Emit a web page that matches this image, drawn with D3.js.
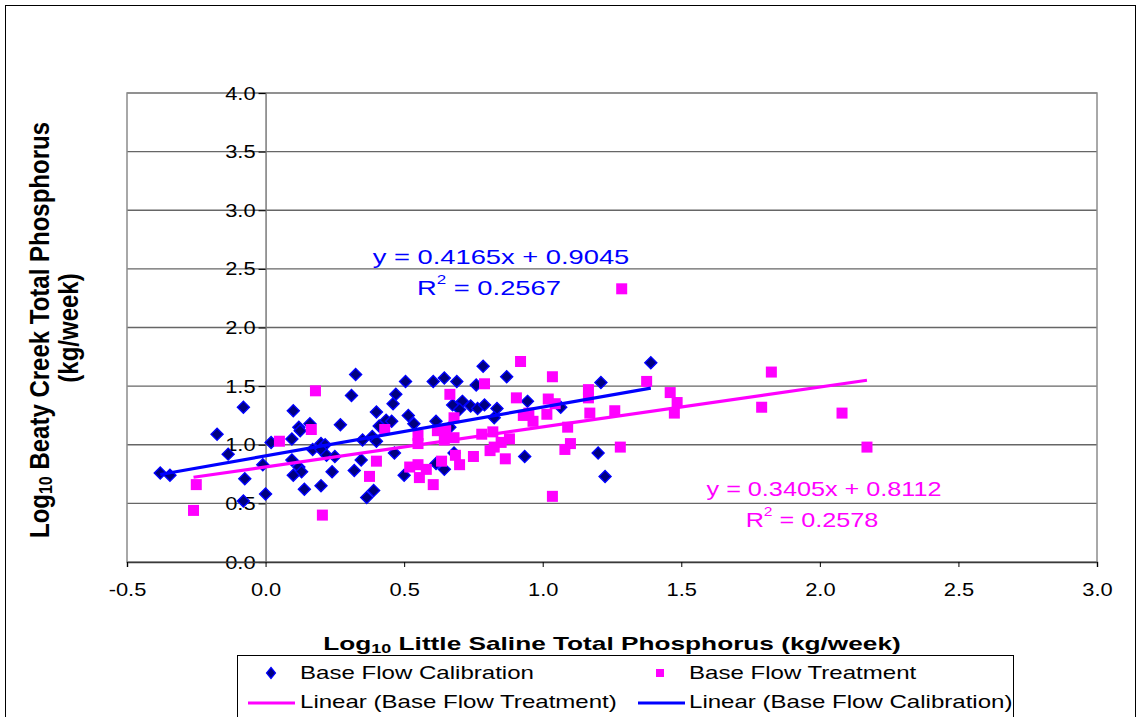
<!DOCTYPE html>
<html>
<head>
<meta charset="utf-8">
<script src="https://cdn.jsdelivr.net/npm/d3@7"></script>
<style>
  body { margin: 0; background: #fff; }
  svg { display: block; font-family: "Liberation Sans", Arial, sans-serif; }
</style>
</head>
<body>
<div id="chart"></div>
<script>
// Base Flow Calibration (log10 kg/week)
const calX = [-0.38, -0.345, -0.08, -0.175, -0.135, -0.075, -0.08, 0.0, -0.01, 0.02,
  0.325, 0.31, 0.10, 0.12, 0.125, 0.16, 0.27, 0.095, 0.20, 0.215,
  0.17, 0.20, 0.22, 0.25, 0.095, 0.12, 0.13, 0.10, 0.24, 0.14,
  0.20, 0.32, 0.345, 0.35, 0.385, 0.40, 0.40, 0.41, 0.435, 0.455,
  0.46, 0.47, 0.465, 0.365, 0.39, 0.785, 0.87, 0.505, 0.605, 0.645,
  0.69, 0.76, 0.515, 0.535, 0.675, 0.71, 0.70, 0.74, 0.765, 0.79,
  0.835, 0.825, 0.615, 0.665, 0.50, 0.615, 0.645, 0.68, 0.935, 1.21,
  1.39, 0.945, 1.065, 1.20, 1.225];
const calY = [0.76, 0.74, 1.32, 1.09, 0.92, 0.71, 0.52, 0.58, 0.83, 1.02,
  1.60, 1.42, 1.29, 1.15, 1.12, 1.18, 1.17, 1.05, 1.01, 1.00,
  0.96, 0.96, 0.91, 0.90, 0.87, 0.81, 0.77, 0.74, 0.77, 0.62,
  0.65, 0.78, 0.87, 1.04, 1.07, 1.03, 1.28, 1.16, 1.21, 1.20,
  1.35, 1.43, 0.93, 0.55, 0.61, 1.67, 1.58, 1.54, 1.54, 1.57,
  1.54, 1.51, 1.25, 1.18, 1.34, 1.37, 1.30, 1.33, 1.31, 1.34,
  1.31, 1.23, 1.20, 1.15, 0.74, 0.84, 0.79, 0.93, 0.90, 1.53,
  1.70, 1.37, 1.32, 0.93, 0.73];

// Base Flow Treatment (log10 kg/week)
const trtX = [-0.25, -0.26, 0.05, 0.18, 0.165, 0.43, 0.40, 0.375, 0.205, 0.92,
  0.79, 0.665, 0.905, 0.68, 0.93, 0.55, 0.55, 0.62, 0.65, 0.645,
  0.68, 0.78, 0.82, 0.88, 0.85, 0.825, 0.81, 0.865, 0.75, 0.685,
  0.70, 0.635, 0.58, 0.55, 0.52, 0.555, 0.605, 1.035, 1.165, 1.165,
  1.375, 1.02, 1.045, 0.95, 1.015, 0.965, 1.17, 1.26, 1.09, 1.10,
  1.08, 1.28, 1.035, 1.46, 1.485, 1.475, 1.825, 1.79, 2.08, 2.17,
  1.285];
const trtY = [0.66, 0.44, 1.03, 1.46, 1.13, 1.13, 0.86, 0.73, 0.40, 1.71,
  1.52, 1.43, 1.40, 1.23, 1.25, 1.08, 1.01, 1.12, 1.12, 1.04,
  1.06, 1.09, 1.11, 1.05, 1.02, 0.98, 0.95, 0.88, 0.90, 0.91,
  0.83, 0.86, 0.79, 0.83, 0.81, 0.72, 0.66, 1.58, 1.47, 1.40,
  1.54, 1.39, 1.35, 1.27, 1.26, 1.20, 1.27, 1.29, 1.15, 1.01,
  0.96, 0.98, 0.56, 1.445, 1.36, 1.27, 1.62, 1.32, 1.27, 0.98,
  2.33];

// trend lines: [slope, intercept] and R squared
const calFit = [0.4165, 0.9045];
const trtFit = [0.3405, 0.8112];
const calR2 = "0.2567";
const trtR2 = "0.2578";

const xTicks = [-0.5, 0, 0.5, 1.0, 1.5, 2.0, 2.5, 3.0];
const yTicks = [0, 0.5, 1.0, 1.5, 2.0, 2.5, 3.0, 3.5, 4.0];

const width = 1138;
const height = 717;
const plot = { left: 127, right: 1097, top: 93, bottom: 562 };
const blue = "#0000ff";
const navy = "#000080";
const pink = "#ff00ff";

const x = d3.scaleLinear().domain([-0.5, 3.0]).range([plot.left, plot.right]);
const y = d3.scaleLinear().domain([0, 4.0]).range([plot.bottom, plot.top]);
const fmt = d => d3.format(".1f")(d).replace("\u2212", "-");

const svg = d3.select("#chart").append("svg")
  .attr("width", width)
  .attr("height", height);

svg.append("rect")
  .attr("width", width).attr("height", height)
  .attr("fill", "#fff");

// outer chart border (runs off the bottom)
svg.append("rect")
  .attr("x", 5.5).attr("y", 5.5)
  .attr("width", 1130).attr("height", 760)
  .attr("fill", "none")
  .attr("stroke", "#000")
  .attr("stroke-width", 1);

// widen text the way the source picture was stretched
function stretch(sel, k) {
  sel.each(function() {
    const len = this.getComputedTextLength();
    d3.select(this)
      .attr("textLength", len * k)
      .attr("lengthAdjust", "spacingAndGlyphs");
  });
}

// gridlines
svg.append("g")
  .selectAll("line")
  .data(yTicks.filter(d => d > 0))
  .enter()
  .append("line")
  .attr("x1", plot.left).attr("x2", plot.right)
  .attr("y1", d => y(d)).attr("y2", d => y(d))
  .attr("stroke", d => d === 4.0 ? "#a0a0a0" : "#666")
  .attr("stroke-width", d => d === 4.0 ? 2 : 1.4);

// plot frame
svg.append("rect")
  .attr("x", plot.left).attr("y", plot.top)
  .attr("width", plot.right - plot.left)
  .attr("height", plot.bottom - plot.top)
  .attr("fill", "none")
  .attr("stroke", "#8c8c8c")
  .attr("stroke-width", 1.5);

// y axis sits at x = 0
const yAxis = svg.append("g")
  .attr("transform", `translate(${x(0)},0)`)
  .call(d3.axisLeft(y).tickValues(yTicks).tickFormat(fmt)
    .tickSize(7).tickPadding(3));
yAxis.select(".domain").attr("stroke", "#7a7a7a").attr("stroke-width", 1.5);
yAxis.selectAll(".tick line").attr("stroke", "#000");
yAxis.selectAll("text")
  .attr("font-size", 19)
  .attr("fill", "#000")
  .call(stretch, 1.15);

// x axis at y = 0
const xAxis = svg.append("g")
  .attr("transform", `translate(0,${y(0)})`)
  .call(d3.axisBottom(x).tickValues(xTicks).tickFormat(fmt)
    .tickSize(5).tickPadding(16));
xAxis.select(".domain").attr("stroke", "#3a3a3a").attr("stroke-width", 1.5);
xAxis.selectAll(".tick line").attr("stroke", "#000");
xAxis.selectAll("text")
  .attr("font-size", 19)
  .attr("fill", "#000")
  .call(stretch, 1.15);

// trend lines
function fitLine(xs, fit) {
  const ext = d3.extent(xs);
  return ext.map(v => [v, fit[0] * v + fit[1]]);
}
const line = d3.line().x(d => x(d[0])).y(d => y(d[1]));

const calPts = calX.map((v, i) => [v, calY[i]]);
const trtPts = trtX.map((v, i) => [v, trtY[i]]);

// calibration diamonds
svg.append("g")
  .selectAll("path")
  .data(calPts)
  .enter()
  .append("path")
  .attr("d", "M0,-6L6,0L0,6L-6,0Z")
  .attr("transform", d => `translate(${x(d[0])},${y(d[1])})`)
  .attr("fill", navy)
  .attr("stroke", blue)
  .attr("stroke-width", 1.4);

// treatment squares
svg.append("g")
  .selectAll("rect")
  .data(trtPts)
  .enter()
  .append("rect")
  .attr("x", d => x(d[0]) - 5.5)
  .attr("y", d => y(d[1]) - 5.5)
  .attr("width", 11)
  .attr("height", 11)
  .attr("fill", pink);

svg.append("path")
  .datum(fitLine(trtX, trtFit))
  .attr("d", line)
  .attr("fill", "none")
  .attr("stroke", pink)
  .attr("stroke-width", 3.2);

svg.append("path")
  .datum(fitLine(calX, calFit))
  .attr("d", line)
  .attr("fill", "none")
  .attr("stroke", blue)
  .attr("stroke-width", 3.2);

// equation labels
function equation(fit, r2, cx, cy, color, k) {
  const g = svg.append("g").attr("fill", color).attr("font-size", 21);
  g.append("text")
    .attr("x", cx).attr("y", cy)
    .attr("text-anchor", "middle")
    .attr("dominant-baseline", "central")
    .text(`y = ${fit[0]}x + ${fit[1]}`)
    .call(stretch, k);
  const r = g.append("text")
    .attr("x", cx - 12).attr("y", cy + 31)
    .attr("text-anchor", "middle")
    .attr("dominant-baseline", "central");
  r.append("tspan").text("R");
  r.append("tspan").attr("font-size", 13).attr("dy", -8).text("2");
  r.append("tspan").attr("dy", 8).text(` = ${r2}`);
  r.call(stretch, k);
}
equation(calFit, calR2, 501, 256, blue, 1.3);
equation(trtFit, trtR2, 824, 488, pink, 1.2);

// axis titles
const xTitle = svg.append("text")
  .attr("x", 612).attr("y", 643)
  .attr("text-anchor", "middle")
  .attr("dominant-baseline", "central")
  .attr("font-weight", "bold")
  .attr("font-size", 19);
xTitle.append("tspan").text("Log");
xTitle.append("tspan").attr("font-size", 13).attr("dy", 5).text("10");
xTitle.append("tspan").attr("dy", -5).text(" Little Saline Total Phosphorus (kg/week)");
xTitle.call(stretch, 1.38);

const yTitle = svg.append("g")
  .attr("font-weight", "bold")
  .attr("font-size", 24);
const yt1 = yTitle.append("text")
  .attr("transform", "translate(39,330) scale(1.15,1) rotate(-90)")
  .attr("text-anchor", "middle")
  .attr("dominant-baseline", "central");
yt1.append("tspan").text("Log");
yt1.append("tspan").attr("font-size", 16).attr("dy", 6).text("10");
yt1.append("tspan").attr("dy", -6).text(" Beaty Creek Total Phosphorus");
yTitle.append("text")
  .attr("transform", "translate(68,328) scale(1.15,1) rotate(-90)")
  .attr("text-anchor", "middle")
  .attr("dominant-baseline", "central")
  .text("(kg/week)");

// legend
const legend = svg.append("g");
legend.append("rect")
  .attr("x", 237.5).attr("y", 655.5)
  .attr("width", 776).attr("height", 80)
  .attr("fill", "#fff")
  .attr("stroke", "#000")
  .attr("stroke-width", 1);

const legendItems = [
  { label: "Base Flow Calibration", kind: "diamond", lx: 271, tx: 300, row: 0 },
  { label: "Base Flow Treatment", kind: "square", lx: 660, tx: 689, row: 0 },
  { label: "Linear (Base Flow Treatment)", kind: "line", color: pink, lx: 248, tx: 300, row: 1 },
  { label: "Linear (Base Flow Calibration)", kind: "line", color: blue, lx: 638, tx: 689, row: 1 }
];
const rowY = [672, 701];

legendItems.forEach(it => {
  const cy = rowY[it.row];
  if (it.kind === "diamond") {
    legend.append("path")
      .attr("d", "M0,-5.5L4.5,0L0,5.5L-4.5,0Z")
      .attr("transform", `translate(${it.lx},${cy + 1})`)
      .attr("fill", navy).attr("stroke", blue).attr("stroke-width", 1.2);
  } else if (it.kind === "square") {
    legend.append("rect")
      .attr("x", it.lx - 4).attr("y", cy - 3)
      .attr("width", 8).attr("height", 8)
      .attr("fill", pink);
  } else {
    legend.append("line")
      .attr("x1", it.lx).attr("x2", it.lx + 47)
      .attr("y1", cy + 2).attr("y2", cy + 2)
      .attr("stroke", it.color).attr("stroke-width", 3);
  }
  legend.append("text")
    .attr("x", it.tx).attr("y", cy)
    .attr("dominant-baseline", "central")
    .attr("font-size", 18.5)
    .text(it.label)
    .call(stretch, 1.3);
});
</script>
</body>
</html>
